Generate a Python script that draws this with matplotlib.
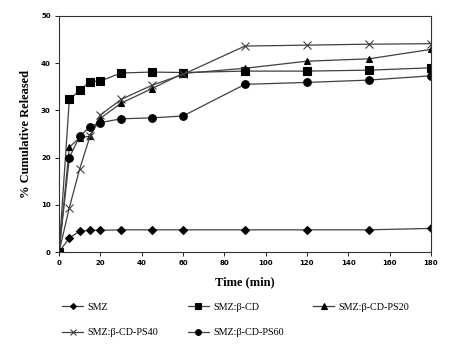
import matplotlib
matplotlib.use('Agg')
import matplotlib.pyplot as plt

time = [0, 5, 10, 15, 20, 30, 45, 60, 90, 120, 150, 180]
smz = [0, 3.0, 4.4, 4.6, 4.6, 4.7, 4.7, 4.7, 4.7, 4.7, 4.7, 5.0]
smz_cd = [0, 32.3, 34.2, 36.1, 36.2, 37.9, 38.1, 38.0, 38.3, 38.3, 38.5, 39.0]
smz_ps20 = [0, 22.2, 24.2, 24.5, 28.3, 31.5, 34.6, 37.8, 38.9, 40.4, 40.9, 42.9]
smz_ps40 = [0, 9.4, 17.6, 24.5, 29.0, 32.3, 35.3, 37.6, 43.6, 43.8, 44.0, 44.1]
smz_ps60 = [0, 20.0, 24.5, 26.5, 27.4, 28.2, 28.4, 28.8, 35.5, 35.9, 36.4, 37.3]

labels = ['SMZ', 'SMZ:β-CD', 'SMZ:β-CD-PS20', 'SMZ:β-CD-PS40', 'SMZ:β-CD-PS60']
series = [smz, smz_cd, smz_ps20, smz_ps40, smz_ps60]
markers = ['D', 's', '^', 'x', 'o']
sizes = [4, 6, 5, 6, 5.5]

fig = plt.figure(figsize=(4.54, 3.52), dpi=100)
ax = fig.add_axes([0.130, 0.284, 0.819, 0.671])

handles = []
for y, lab, m, ms in zip(series, labels, markers, sizes):
    h, = ax.plot(time, y, color='#404040', lw=0.9, marker=m, markersize=ms,
                 markerfacecolor='black', markeredgecolor='black' if m != 'x' else '#404040',
                 markeredgewidth=0.8, label=lab)
    handles.append(h)

ax.set_xlim(0, 180)
ax.set_ylim(0, 50)
ax.set_xticks(range(0, 181, 20))
ax.set_yticks(range(0, 51, 10))
ax.tick_params(labelsize=5, length=3, width=0.6, pad=3)
for t in ax.get_xticklabels() + ax.get_yticklabels():
    t.set_fontweight('bold')
for s in ax.spines.values():
    s.set_linewidth(0.8)
    s.set_color('#333333')

ax.set_xlabel('Time (min)', fontfamily='Liberation Serif', fontweight='bold', fontsize=9, labelpad=7)
ax.set_ylabel('% Cumulative Released', fontfamily='Liberation Serif', fontweight='bold', fontsize=9, labelpad=6)

# row-wise legend order: SMZ, CD, PS20 / PS40, PS60
order = [0, 3, 1, 4, 2]
fig.legend([handles[i] for i in order], [labels[i] for i in order],
           loc='upper left', bbox_to_anchor=(0.137, 0.14), ncol=3, frameon=False,
           prop={'family': 'Liberation Serif', 'size': 7.3}, handlelength=2.1,
           columnspacing=2.9, handletextpad=0.4, labelspacing=1.6, borderpad=0,
           borderaxespad=0, markerscale=0.75)

fig.savefig('out.png', dpi=100)
